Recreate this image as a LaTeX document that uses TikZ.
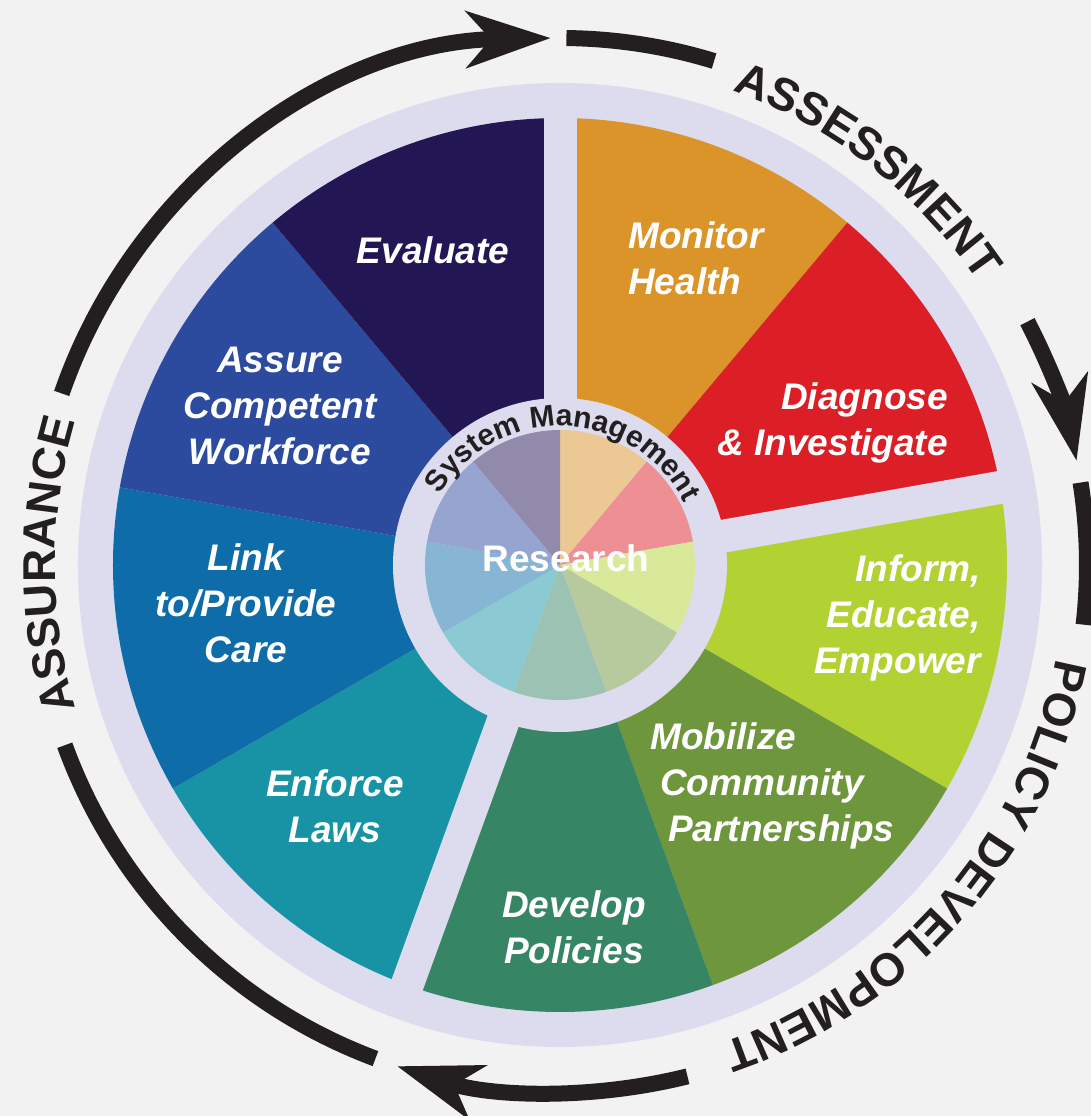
\documentclass[tikz,border=0pt]{standalone}
\usepackage{fontspec}
\setmainfont{Liberation Sans}
\usetikzlibrary{arrows.meta,decorations.text}

\definecolor{paper}{HTML}{F2F2F2}
\definecolor{ring}{HTML}{DDDBEE}
\definecolor{ink}{HTML}{231F20}
\definecolor{monitorc}{HTML}{DA942A}
\definecolor{diagnosec}{HTML}{DC1E26}
\definecolor{informc}{HTML}{B2D234}
\definecolor{mobilizec}{HTML}{6E963C}
\definecolor{developc}{HTML}{368565}
\definecolor{enforcec}{HTML}{1893A6}
\definecolor{linkc}{HTML}{0E6CA8}
\definecolor{assurec}{HTML}{2D4B9E}
\definecolor{evaluatec}{HTML}{231655}

\newcommand{\segfont}{\fontsize{37}{46}\selectfont\bfseries\itshape}
\newcommand{\ringfont}{\fontsize{46}{46}\selectfont\bfseries}
\newcommand{\hubfont}{\fontsize{30}{30}\selectfont\bfseries}

\begin{document}
\begin{tikzpicture}[x=1pt,y=1pt,
  arcline/.style={draw=ink,line width=16pt},
  bigtip/.style={-{Stealth[length=84pt,width=56pt,inset=24pt]}},
  ]
  \fill[paper] (-560,-551) rectangle (531,565);
  \useasboundingbox (-560,-551) rectangle (531,565);
  \coordinate (hub) at (0,0);

  % wheel
  \fill[ring] (hub) circle[radius=482];
  \foreach \col [count=\i] in {monitorc,diagnosec,informc,mobilizec,developc,
      enforcec,linkc,assurec,evaluatec}
    \fill[\col] (hub) -- ({130-40*\i}:447)
      arc[start angle={130-40*\i},end angle={90-40*\i},radius=447] -- cycle;
  \foreach \a in {90,10,-110}
    \draw[ring,line width=33pt] (hub) -- (\a:452);
  \fill[ring] (hub) circle[radius=167];
  \foreach \col [count=\i] in {monitorc,diagnosec,informc,mobilizec,developc,
      enforcec,linkc,assurec,evaluatec}
    \fill[\col!50] (hub) -- ({130-40*\i}:135)
      arc[start angle={130-40*\i},end angle={90-40*\i},radius=135] -- cycle;

  % segment labels
  \begin{scope}[
    every node/.style={
      text=white,
      font=\segfont,
      inner sep=0pt,
      align=center,
    },
    ]
    \node (evaluate) at (-127,315) {Evaluate};
    \node[anchor=west,align=left] (monitor) at (68,307) {Monitor\\Health};
    \node[anchor=east,align=right] (diagnose) at (388,142) {Diagnose\\\& Investigate};
    \node[anchor=east,align=right] (inform) at (421,-53) {Inform,\\Educate,\\Empower};
    \node[anchor=west,align=left] (mobilize) at (90,-221)
      {Mobilize\\\hspace*{10pt}Community\\\hspace*{18pt}Partnerships};
    \node (develop) at (14,-362) {Develop\\Policies};
    \node (enforce) at (-225,-241) {Enforce\\Laws};
    \node (link) at (-314,-38) {Link\\to/Provide\\Care};
    \node (assure) at (-280,159) {Assure\\Competent\\Workforce};
    \node[font=\fontsize{37}{46}\selectfont\bfseries] (research) at (6,7) {Research};
  \end{scope}

  % hub ring text
  \path[decorate,decoration={text along path,text align=center,text color=ink,
      text={|\hubfont|System Management}}]
    (168:139) arc[start angle=168,end angle=8,radius=139];

  % cycle around the wheel
  \coordinate (assure-out) at (161:527);
  \coordinate (assess-in)  at (89.3:527);
  \coordinate (assess-out) at (27.5:527);
  \coordinate (policy-in)  at (9:527);
  \coordinate (policy-out) at (-76:527);
  \coordinate (assure-in)  at (-110.5:527);
  \draw[arcline,bigtip] (assure-out) arc[start angle=161,end angle=91,radius=527];
  \draw[arcline] (assess-in) arc[start angle=89.3,end angle=73,radius=527];
  \draw[arcline,bigtip] (assess-out) arc[start angle=27.5,end angle=11.4,radius=527];
  \draw[arcline] (policy-in) arc[start angle=9,end angle=-6.5,radius=527];
  \draw[arcline,bigtip] (policy-out) arc[start angle=-76,end angle=-108,radius=527];
  \draw[arcline] (assure-in) arc[start angle=-110.5,end angle=-160,radius=527];

  \path[decorate,decoration={text along path,text align=center,text color=ink,
      text={|\ringfont|ASSESSMENT}}]
    (82:505) arc[start angle=82,end angle=22,radius=505];
  \path[decorate,decoration={text along path,text align=center,text color=ink,
      text={|\ringfont|POLICY DEVELOPMENT}}]
    (5:505) arc[start angle=5,end angle=-87,radius=505];
  \path[decorate,decoration={text along path,text align=center,text color=ink,
      text={|\ringfont|ASSURANCE}}]
    (212:505) arc[start angle=212,end angle=148,radius=505];
\end{tikzpicture}
\end{document}
